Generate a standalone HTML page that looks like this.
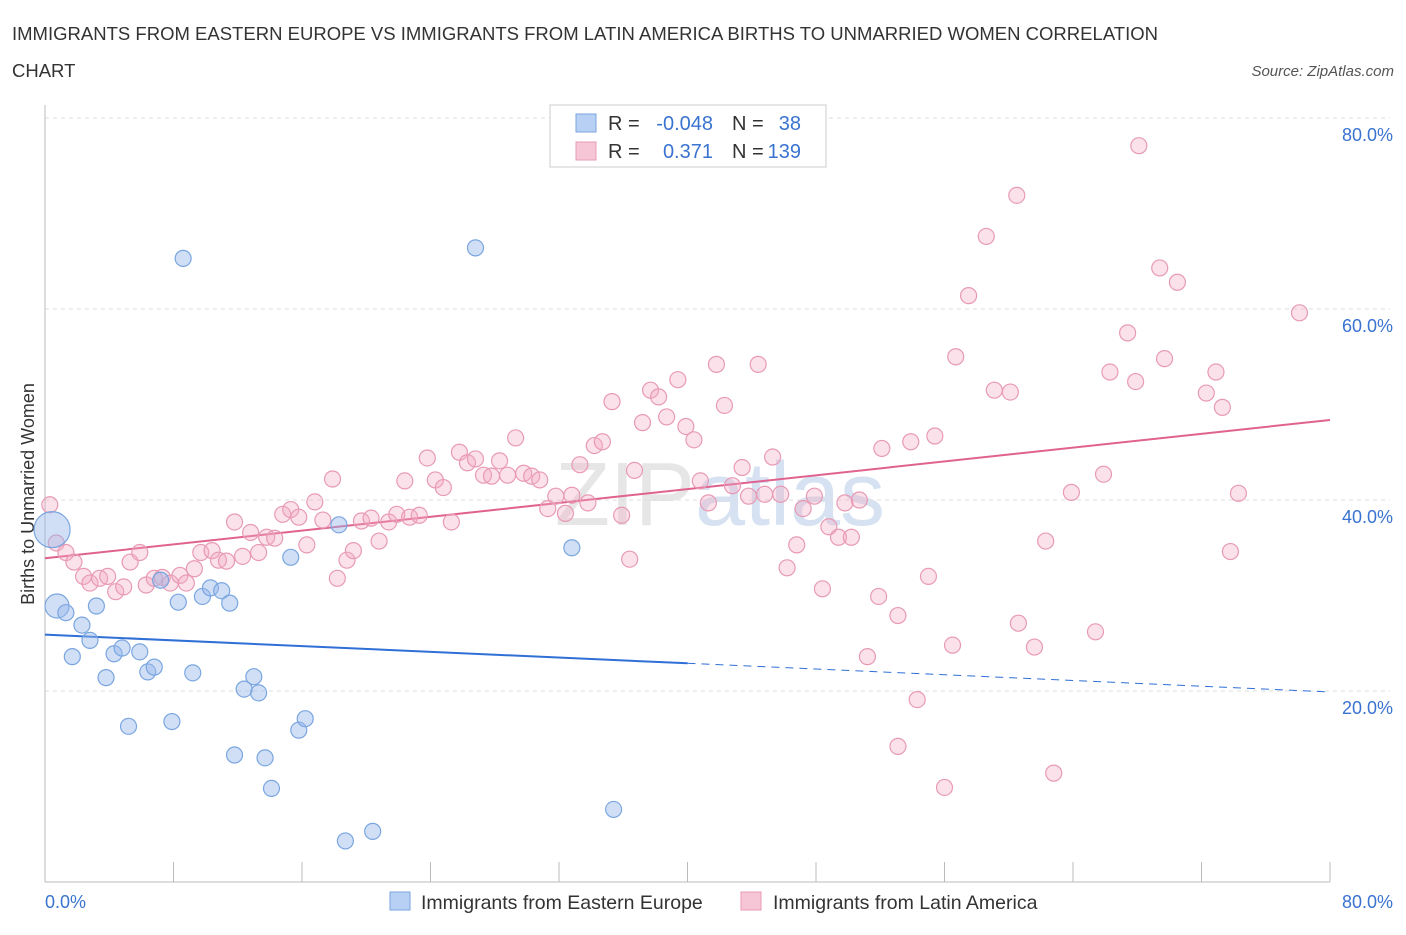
<!DOCTYPE html>
<html><head><meta charset="utf-8"><style>
body{margin:0;background:#fff;font-family:"Liberation Sans",sans-serif;}
svg text{font-family:"Liberation Sans",sans-serif;}
</style></head><body>
<svg id="c" width="1406" height="930" xmlns="http://www.w3.org/2000/svg">
<text x="12" y="40" font-size="18.5" fill="#333" textLength="1146">IMMIGRANTS FROM EASTERN EUROPE VS IMMIGRANTS FROM LATIN AMERICA BIRTHS TO UNMARRIED WOMEN CORRELATION</text>
<text x="12" y="77" font-size="18.5" fill="#333">CHART</text>
<text x="1394" y="76" font-size="15" font-style="italic" fill="#555" text-anchor="end">Source: ZipAtlas.com</text>
<text x="720" y="525" font-size="90" fill="#e6e6e6" text-anchor="middle" font-family="Liberation Serif">ZIP<tspan fill="#d6e2f2" font-family="Liberation Sans">atlas</tspan></text>
<text transform="translate(34,494) rotate(-90)" font-size="18" fill="#333" text-anchor="middle">Births to Unmarried Women</text>
<g id="grid"></g><g id="trend"></g><g id="pts"></g>
<g>
<rect x="550" y="105" width="276" height="62" fill="#fff" stroke="#ccc"/>
<rect x="576" y="114" width="20" height="18" fill="#b8d0f3" stroke="#7aa6e0"/>
<text x="608" y="130" font-size="20" fill="#333">R =</text>
<text x="713" y="130" font-size="20" fill="#3a73d0" text-anchor="end">-0.048</text>
<text x="732" y="130" font-size="20" fill="#333">N =</text>
<text x="801" y="130" font-size="20" fill="#3a73d0" text-anchor="end">38</text>
<rect x="576" y="142" width="20" height="18" fill="#f7c6d6" stroke="#e89ab5"/>
<text x="608" y="158" font-size="20" fill="#333">R =</text>
<text x="713" y="158" font-size="20" fill="#3a73d0" text-anchor="end">0.371</text>
<text x="732" y="158" font-size="20" fill="#333">N =</text>
<text x="801" y="158" font-size="20" fill="#3a73d0" text-anchor="end">139</text>
</g>
<g>
<rect x="390" y="892" width="20" height="18" fill="#b8d0f3" stroke="#7aa6e0"/>
<text x="421" y="909" font-size="19.5" fill="#333">Immigrants from Eastern Europe</text>
<rect x="741" y="892" width="20" height="18" fill="#f7c6d6" stroke="#e89ab5"/>
<text x="773" y="909" font-size="19.5" fill="#333">Immigrants from Latin America</text>
</g>
</svg>
<script>
const blueX=[0.44,0.75,1.3,2.3,3.2,2.8,1.7,3.8,4.3,4.8,5.9,6.4,6.8,5.2,7.9,8.6,7.2,8.3,9.2,9.8,10.3,11.0,11.5,12.4,13.0,13.3,11.8,13.7,14.1,15.8,16.2,15.3,18.3,18.7,20.4,26.8,32.8,35.4];
const blueY=[36.9,28.9,28.2,26.9,28.9,25.3,23.6,21.4,23.9,24.5,24.1,22.0,22.5,16.3,16.8,65.3,31.6,29.3,21.9,29.9,30.8,30.5,29.2,20.2,21.5,19.8,13.3,13.0,9.8,15.9,17.1,34.0,37.4,4.3,5.3,66.4,35.0,7.6];
const pinkX=[0.3,0.7,1.3,1.8,2.4,2.8,3.4,3.9,4.4,4.9,5.3,5.9,6.3,6.8,7.3,7.8,8.4,8.8,9.3,9.7,10.4,10.8,11.3,11.8,12.3,12.8,13.3,13.8,14.3,14.8,15.3,15.8,16.3,16.8,17.3,17.9,18.2,18.8,19.2,19.7,20.3,20.8,21.4,21.9,22.4,22.7,23.3,23.8,24.3,24.8,25.3,25.8,26.3,26.8,27.3,27.8,28.3,28.8,29.3,29.8,30.3,30.8,31.3,31.8,32.4,32.8,33.3,33.8,34.2,34.7,35.3,35.9,36.4,36.7,37.2,37.7,38.2,38.7,39.4,39.9,40.4,40.8,41.3,41.8,42.3,42.8,43.4,43.8,44.4,44.8,45.3,45.8,46.2,46.8,47.2,47.9,48.4,48.8,49.4,49.8,50.2,50.7,51.2,51.9,52.1,53.1,53.9,54.3,53.1,55.0,55.4,56.0,56.5,56.7,57.5,58.6,59.1,60.1,60.5,60.6,61.6,62.3,62.8,63.9,65.4,65.9,66.3,67.4,67.9,68.1,69.4,69.7,70.5,72.3,72.9,73.3,73.8,74.3,78.1];
const pinkY=[39.5,35.5,34.5,33.5,32.0,31.3,31.8,32.0,30.4,30.9,33.5,34.5,31.1,31.8,31.9,31.3,32.1,31.3,32.8,34.5,34.7,33.7,33.6,37.7,34.1,36.6,34.5,36.1,36.0,38.5,39.0,38.2,35.3,39.8,37.9,42.2,31.8,33.7,34.7,37.8,38.1,35.7,37.7,38.5,42.0,38.2,38.4,44.4,42.1,41.3,37.7,45.0,43.9,44.3,42.6,42.5,44.1,42.6,46.5,42.8,42.5,42.1,39.1,40.4,38.6,40.5,43.7,39.7,45.7,46.1,50.3,38.4,33.8,43.1,48.1,51.5,50.8,48.7,52.6,47.7,46.3,42.0,39.7,54.2,49.9,41.5,43.4,40.4,54.2,40.6,44.5,40.6,32.9,35.3,39.1,40.4,30.7,37.2,36.1,39.7,36.1,40.0,23.6,29.9,45.4,27.9,46.1,19.1,14.2,32.0,46.7,9.9,24.8,55.0,61.4,67.6,51.5,51.3,71.9,27.1,24.6,35.7,11.4,40.8,26.2,42.7,53.4,57.5,52.4,77.1,64.3,54.8,62.8,51.2,53.4,49.7,34.6,40.7,59.6];
const yTicks=[20,40,60,80];
const yTickLabels=["20.0%","40.0%","60.0%","80.0%"];
const blueTrend=[25.9,-0.075]; // intercept, slope
const pinkTrend=[33.9,0.181];
const NS="http://www.w3.org/2000/svg";
const X=v=>45+v*1285/80, Y=v=>882-v*9.55;
function mk(tag,attrs,parent){const e=document.createElementNS(NS,tag);for(const k in attrs)e.setAttribute(k,attrs[k]);document.getElementById(parent).appendChild(e);return e;}
yTicks.forEach((t,i)=>{
 const l=mk('line',{x1:45,x2:1390,y1:Y(t),y2:Y(t),stroke:'#ddd','stroke-dasharray':'4,4'},'grid');
 
 
 const tx=mk('text',{x:1393,y:Y(t)+23,'font-size':18,fill:'#3a73d0','text-anchor':'end'},'grid');tx.textContent=yTickLabels[i];
 
 
});
const ax=mk('line',{x1:45,x2:45,y1:105,y2:882,stroke:'#bbb'},'grid');


const bx=mk('line',{x1:45,x2:1330,y1:882,y2:882,stroke:'#bbb'},'grid');


for(let i=0;i<=10;i++){const t=mk('line',{x1:X(i*8),x2:X(i*8),y1:862,y2:882,stroke:'#bbb'},'grid');
 
 }
let t0=mk('text',{x:45,y:908,'font-size':18,fill:'#3a73d0'},'grid');t0.textContent='0.0%';


let t1=mk('text',{x:1393,y:908,'font-size':18,fill:'#3a73d0','text-anchor':'end'},'grid');t1.textContent='80.0%';


pinkX.forEach((v,i)=>{const c=mk('circle',{cx:X(v),cy:Y(pinkY[i]),r:8,fill:'rgba(244,170,195,0.35)',stroke:'#e89ab5','stroke-width':1.2},'pts');
 
 });
blueX.forEach((v,i)=>{const r=i==0?18:i==1?12:8;const c=mk('circle',{cx:X(v),cy:Y(blueY[i]),r:r,fill:'rgba(150,185,235,0.45)',stroke:'#7aa6e0','stroke-width':1.2},'pts');
 
 });
const bl=mk('line',{x1:X(0),y1:Y(blueTrend[0]),x2:X(40),y2:Y(blueTrend[0]+blueTrend[1]*40),stroke:'#2f6fd6','stroke-width':2},'trend');


const bd=mk('line',{x1:X(40),y1:Y(blueTrend[0]+blueTrend[1]*40),x2:X(80),y2:Y(blueTrend[0]+blueTrend[1]*80),stroke:'#2f6fd6','stroke-width':1,'stroke-dasharray':'8,6'},'trend');


const pl=mk('line',{x1:X(0),y1:Y(pinkTrend[0]),x2:X(80),y2:Y(pinkTrend[0]+pinkTrend[1]*80),stroke:'#e0628e','stroke-width':2},'trend');


</script>
</body></html>
